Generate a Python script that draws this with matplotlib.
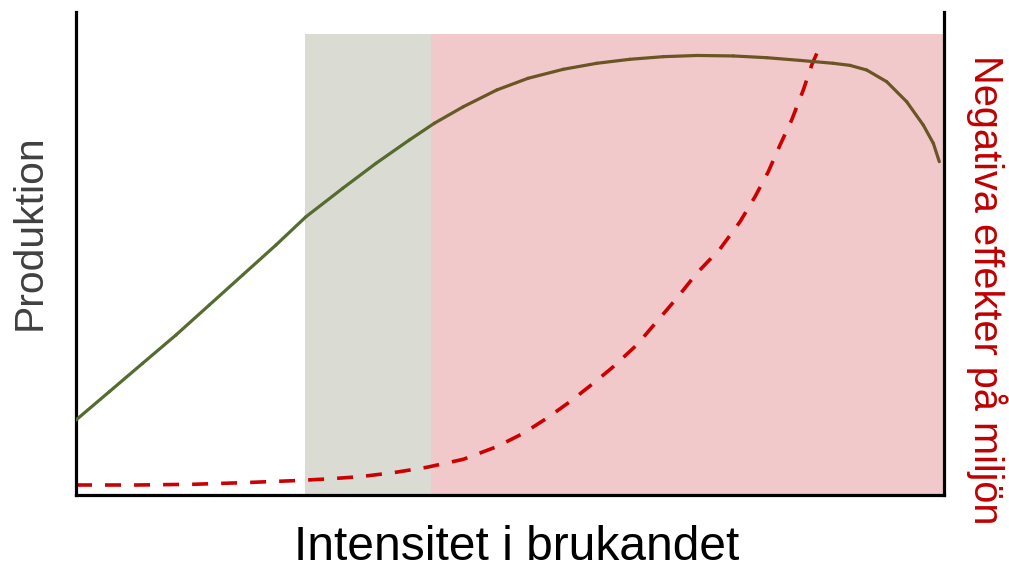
import numpy as np
import matplotlib.pyplot as plt
from matplotlib.collections import LineCollection
from matplotlib.colors import to_rgb

plt.rcParams['font.family'] = ['Liberation Sans', 'DejaVu Sans']
plt.rcParams['lines.scale_dashes'] = False

# production curve (green/brown)
prod_x = [0, 3.84, 7.68, 11.52, 15.36, 19.20, 23.04, 26.50, 30.73, 34.56, 38.40, 41.28,
          44.62, 48.47, 52.07, 56.14, 59.99, 63.82, 67.66, 71.51, 75.73, 79.57, 83.41,
          87.24, 89.17, 91.09, 93.40, 95.70, 97.61, 98.77, 99.46]
prod_y = [15.53, 21.39, 27.27, 33.13, 39.34, 45.55, 51.76, 57.62, 63.50, 68.67, 73.50, 76.96,
          80.39, 83.85, 86.27, 88.14, 89.38, 90.21, 90.75, 91.00, 90.90, 90.54, 89.98,
          89.38, 88.95, 87.99, 85.57, 81.43, 76.60, 72.82, 69.01]

# negative environmental effects (red dashed)
neg_x = [0, 6.99, 13.51, 19.27, 25.03, 28.88, 32.72, 36.55, 40.40, 44.62, 48.47, 51.53,
         54.23, 56.91, 59.60, 61.90, 64.60, 66.90, 69.20, 71.51, 74.19, 76.50, 78.23,
         79.76, 81.11, 82.45, 83.79, 84.76, 85.52]
neg_y = [2.07, 2.07, 2.22, 2.55, 2.96, 3.31, 3.79, 4.62, 5.73, 7.39, 10.00, 12.77,
         15.88, 19.32, 23.13, 26.56, 31.06, 35.88, 40.72, 45.90, 50.93, 56.58, 61.76,
         66.94, 72.46, 77.64, 83.85, 89.03, 92.13]

# shaded zones
green_zone = (26.4, 40.9)
red_zone = (40.9, 100)
zone_top = 95.4

fig = plt.figure(figsize=(10.09, 5.70), dpi=100)
ax = fig.add_axes([76/1009, 75/570, 868/1009, 483/570])
ax.set_xlim(0, 100)
ax.set_ylim(0, 100)

ax.fill_between(green_zone, 0, zone_top, color='#dadcd3', lw=0, zorder=0)
ax.fill_between(red_zone, 0, zone_top, color='#f2c9cb', lw=0, zorder=0)

# production line, colour shifts from olive green to brown
pts = np.column_stack([prod_x, prod_y])
segs = np.stack([pts[:-1], pts[1:]], axis=1)
c0 = np.array(to_rgb('#556b2f'))
c1 = np.array(to_rgb('#6b5426'))
mid = (np.array(prod_x[:-1]) + np.array(prod_x[1:])) / 2
t = np.clip((mid - 37) / 9, 0, 1)
cols = [c0 * (1 - v) + c1 * v for v in t]
lc = LineCollection(segs, colors=cols, linewidths=2.3, capstyle='round', joinstyle='round', zorder=3)
ax.add_collection(lc)

ax.plot(neg_x, neg_y, color='#cc0000', lw=2.6, linestyle=(0, (11.5, 9.4)), zorder=2)

for s in ['left', 'right', 'bottom']:
    ax.spines[s].set_linewidth(2.3)
    ax.spines[s].set_color('black')
ax.spines['top'].set_visible(False)
ax.set_xticks([])
ax.set_yticks([])

fig.text(517/1009, 1 - 548/570, 'Intensitet i brukandet', fontsize=34.5, ha='center', va='center', color='black')
fig.text(30/1009, 1 - 232/570, 'Produktion', fontsize=29.4, rotation=90, ha='center', va='center', color='#404040')
fig.text(987/1009, 1 - 290/570, 'Negativa effekter på miljön', fontsize=28.6, rotation=-90,
         ha='center', va='center', color='#c00000')

fig.savefig('out.png', dpi=100)
